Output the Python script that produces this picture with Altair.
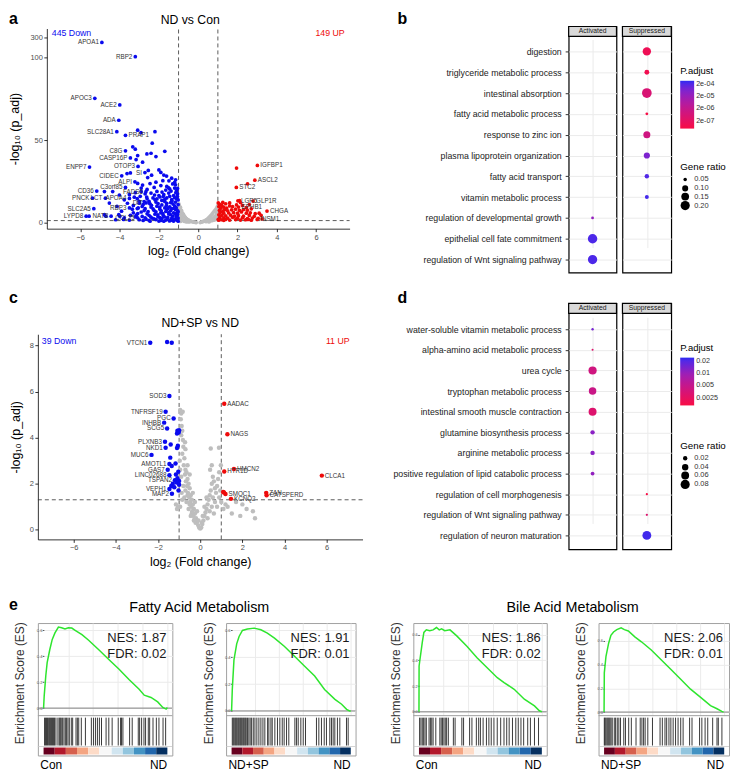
import altair as alt
import pandas as pd

FONT = "Liberation Sans"
BLUE = "#0A0AEE"
RED = "#EE0A0A"
GRAY = "#BEBEBE"

# ---------------- Panel a : ND vs Con (volcano) ----------------
a_down_genes = ["APOA1", "RBP2", "APOC3", "ACE2", "ADA", "SLC28A1", "PRAP1", "C8G", "CASP16P",
                "ENPP7", "OTOP3", "SI", "CIDEC", "ALPI", "C3orf85", "CD36", "FADS6", "PNCK",
                "LCT", "APOA4", "DIT", "SLC2A5", "RBP3", "LYPD8", "NAT8", "CCL25"]
a_down_gx = [-4.9, -3.2, -5.26, -3.99, -4.04, -4.14, -3.7, -3.7, -3.45, -5.53, -3.06, -2.71, -3.89,
             -3.22, -3.7, -5.16, -2.66, -5.38, -4.72, -3.5, -2.66, -5.31, -3.5, -5.7, -4.43, -3.08]
a_down_gy = [291, 100.6, 75.4, 71.4, 62.1, 55.2, 53.0, 43.6, 39.3, 33.7, 34.1, 30.4, 28.4, 24.8,
             21.4, 19.2, 18.8, 14.9, 14.9, 14.7, 12.0, 8.5, 9.0, 4.0, 4.0, 3.0]
a_down_right_labels = ["PRAP1"]   # labels that sit to the right of their point
a_down_pts = [(-3.08, 56.1), (-2.91, 54.6), (-2.2, 55.2), (-2.34, 48.2), (-3.33, 46.0), (-3.2, 44.6),
              (-2.61, 41.7), (-2.4, 42.1), (-1.7, 43.3), (-3.08, 40.7), (-3.16, 38.3), (-2.15, 40.1),
              (-2.83, 36.7), (-3.62, 29.8), (-3.45, 30.2), (-2.54, 31.7), (-2.0, 32.0), (-1.9, 30.5),
              (-1.75, 28.9), (-2.57, 27.4), (-2.37, 28.8), (-1.61, 28.3), (-1.49, 25.4), (-3.08, 23.8),
              (-2.83, 22.8), (-2.24, 21.4), (-1.65, 19.8), (-4.77, 18.9), (-4.35, 18.9), (-4.01, 16.8),
              (-3.76, 13.9), (-4.52, 11.9), (-4.13, 9.9), (-4.77, 4.9), (-4.7, 4.0), (-4.04, 4.9),
              (-3.76, 3.0), (-3.1, 8.6), (-3.08, 5.6), (-5.55, 4.0), (-3.99, 4.0),
              (-1.3, 23.5), (-1.2, 21.0), (-1.1, 19.5), (-1.45, 20.5), (-1.9, 22.5), (-2.1, 19.0),
              (-2.4, 18.0), (-2.7, 17.5), (-2.95, 16.0), (-3.25, 15.5), (-3.0, 13.0), (-2.6, 14.5),
              (-2.3, 15.0), (-2.0, 16.5), (-1.75, 17.0), (-1.5, 18.0), (-1.25, 16.5), (-1.05, 17.5),
              (-1.1, 14.5), (-1.35, 14.0), (-1.6, 15.0), (-1.85, 13.5), (-2.15, 12.5), (-2.45, 11.5),
              (-2.8, 11.0), (-3.3, 10.5), (-3.05, 9.0), (-2.7, 8.5), (-2.4, 9.5), (-2.1, 10.0),
              (-1.85, 10.8), (-1.6, 11.8), (-1.4, 12.2), (-1.15, 12.5), (-1.02, 11.0), (-1.2, 10.2),
              (-1.45, 9.6), (-1.7, 9.0), (-1.95, 8.2), (-2.25, 7.5), (-2.55, 6.8), (-2.9, 6.5),
              (-3.3, 6.0), (-3.2, 3.5), (-2.85, 3.8), (-2.5, 4.5), (-2.2, 5.2), (-1.9, 6.0),
              (-1.65, 6.8), (-1.4, 7.4), (-1.15, 8.0), (-1.03, 7.0), (-1.25, 6.0), (-1.5, 5.3),
              (-1.78, 4.4), (-2.05, 3.6), (-2.35, 2.8), (-2.65, 2.2), (-3.0, 1.8), (-1.05, 5.0),
              (-1.1, 3.8), (-1.3, 4.0), (-1.55, 3.2), (-1.85, 2.5), (-2.15, 1.9), (-2.5, 1.5),
              (-1.02, 2.8), (-1.2, 2.2), (-1.4, 1.8), (-1.65, 1.6), (-1.9, 1.4), (-1.08, 1.5),
              (-1.3, 1.4), (-2.8, 1.4), (-3.5, 1.6), (-3.8, 2.0), (-4.2, 1.8), (-1.12, 9.2),
              (-1.35, 8.6), (-1.6, 8.0), (-1.02, 13.8), (-1.2, 15.2), (-1.45, 16.0), (-1.7, 14.2),
              (-1.95, 15.6), (-2.2, 14.0), (-2.5, 13.0), (-2.75, 12.8), (-1.05, 20.8), (-1.15, 23.0),
              (-1.6, 22.0), (-2.6, 20.2), (-2.9, 19.0), (-3.2, 18.2), (-3.5, 17.0), (-3.6, 11.8),
              (-3.9, 7.0), (-3.45, 4.5),
              (-1.02, 0.9), (-1.05, 1.9), (-1.08, 3.3), (-1.12, 4.6), (-1.18, 5.6), (-1.04, 6.3),
              (-1.09, 7.8), (-1.22, 8.7), (-1.28, 11.3), (-1.33, 13.1), (-1.06, 16.0), (-1.14, 18.2),
              (-1.38, 19.2), (-1.52, 21.3), (-1.2, 24.5), (-1.25, 1.0), (-1.35, 2.6), (-1.42, 5.0),
              (-1.5, 6.2), (-1.55, 8.7), (-1.62, 10.4), (-1.7, 12.9), (-1.78, 15.9), (-1.84, 18.6),
              (-1.46, 1.1), (-1.58, 2.3), (-1.72, 3.6), (-1.8, 5.6), (-1.88, 7.2), (-1.96, 9.4),
              (-2.04, 11.6), (-2.1, 14.4), (-2.22, 16.8), (-1.75, 0.9), (-1.95, 3.1), (-2.05, 4.8),
              (-2.15, 6.6), (-2.3, 8.4), (-2.38, 10.6), (-2.5, 12.0), (-2.62, 15.6), (-2.0, 1.0),
              (-2.25, 2.4), (-2.42, 3.6), (-2.6, 5.4), (-2.75, 7.4), (-2.85, 9.9), (-3.0, 11.8),
              (-2.45, 0.9), (-2.7, 3.0), (-3.15, 4.6), (-3.35, 8.2), (-3.1, 14.6), (-2.9, 21.0),
              (-2.45, 23.7), (-2.15, 24.6), (-1.8, 25.5), (-1.35, 27.0), (-1.15, 26.0)]
a_up_genes = ["IGFBP1", "ASCL2", "STC2", "LGR5", "GLP1R", "EPHB1", "CHGA", "INSM1"]
a_up_gx = [3.01, 2.88, 1.94, 2.02, 2.79, 2.05, 3.5, 3.0]
a_up_gy = [34.7, 25.8, 21.4, 13.3, 13.1, 9.5, 7.1, 2.0]
a_up_pts = [(1.95, 33.1), (2.51, 23.6), (2.1, 13.4), (2.5, 2.0), (3.25, 2.3),
            (1.02, 12.0), (1.1, 11.2), (1.2, 10.5), (1.05, 9.8), (1.3, 9.5), (1.15, 8.8), (1.45, 8.9),
            (1.6, 10.2), (1.75, 9.8), (1.35, 7.9), (1.08, 7.5), (1.25, 7.0), (1.5, 7.2), (1.7, 7.8),
            (1.9, 8.2), (2.1, 7.5), (2.3, 8.0), (2.5, 7.6), (2.7, 8.4), (1.12, 6.3), (1.3, 5.8),
            (1.55, 5.9), (1.8, 6.2), (2.0, 5.8), (2.2, 6.5), (2.45, 5.8), (2.65, 6.0), (2.9, 5.5),
            (3.1, 5.8), (1.05, 4.8), (1.2, 4.5), (1.4, 4.2), (1.65, 4.6), (1.85, 4.0), (2.05, 4.3),
            (2.3, 4.0), (2.6, 4.4), (2.85, 3.9), (3.2, 4.5), (1.1, 3.2), (1.3, 3.0), (1.5, 2.8),
            (1.75, 3.3), (2.0, 2.7), (2.25, 3.0), (2.5, 2.5), (2.75, 2.8), (3.05, 2.6), (1.02, 2.1),
            (1.2, 1.8), (1.4, 2.0), (1.6, 1.6), (1.9, 1.9), (2.15, 1.6), (2.4, 1.8), (2.7, 1.5),
            (1.05, 1.5), (1.3, 1.45), (2.55, 2.1), (1.95, 10.8), (2.25, 10.5), (2.45, 9.2),
            (1.25, 12.3), (1.4, 11.5), (1.6, 12.0), (2.15, 12.2), (2.6, 11.0)]
a_ns_pts = [(-0.98, 11.5), (-0.95, 10.2), (-0.9, 9.3), (-0.93, 8.0), (-0.85, 7.5), (-0.88, 6.2),
            (-0.8, 6.0), (-0.82, 4.8), (-0.75, 5.0), (-0.7, 4.0), (-0.72, 3.0), (-0.65, 3.2),
            (-0.6, 2.5), (-0.55, 2.0), (-0.5, 1.7), (-0.45, 1.3), (-0.4, 1.0), (-0.35, 0.8),
            (-0.3, 0.6), (-0.25, 0.4), (-0.2, 0.3), (-0.15, 0.2), (-0.1, 0.1), (-0.95, 5.5),
            (-0.9, 4.2), (-0.85, 3.5), (-0.8, 2.6), (-0.75, 2.0), (-0.7, 1.6), (-0.65, 1.2),
            (-0.6, 1.0), (-0.55, 0.8), (-0.5, 0.6), (-0.45, 0.5), (-0.97, 3.5), (-0.92, 2.5),
            (-0.88, 1.8), (-0.8, 1.3), (-0.7, 0.8), (-0.6, 0.5), (-0.98, 7.0), (-0.96, 1.5),
            (-0.9, 0.8), (-0.99, 9.0), (0.1, 0.1), (0.15, 0.3), (0.2, 0.5), (0.25, 0.8), (0.3, 1.0),
            (0.35, 1.3), (0.4, 1.7), (0.45, 2.1), (0.5, 2.6), (0.55, 3.2), (0.6, 3.8), (0.65, 4.5),
            (0.7, 5.2), (0.75, 6.0), (0.8, 6.8), (0.85, 7.5), (0.9, 8.2), (0.95, 9.0), (0.98, 10.0),
            (0.6, 2.0), (0.7, 2.8), (0.8, 3.5), (0.9, 4.5), (0.95, 5.5), (0.65, 1.5), (0.75, 2.0),
            (0.85, 2.8), (0.95, 3.5), (0.5, 1.0), (0.6, 1.0), (0.7, 1.2), (0.8, 1.5), (0.9, 2.0),
            (0.97, 2.5), (0.4, 0.6), (0.55, 0.5), (0.99, 7.0), (0.92, 6.3)]

# ---------------- Panel c : ND+SP vs ND (volcano) ----------------
c_down_genes = ["VTCN1", "SOD3", "TNFRSF19", "PGC", "INHBB", "SCG5", "PLXNB3", "NKD1", "MUC6",
                "AMOTL1", "GAS7", "LINC02688", "TSPAN2", "VEPH1", "MAP2"]
c_down_gx = [-2.37, -1.46, -1.64, -1.26, -1.71, -1.57, -1.67, -1.64, -2.31, -1.46, -1.54, -1.46,
             -1.2, -1.46, -1.34]
c_down_gy = [8.12, 5.81, 5.12, 4.83, 4.65, 4.40, 3.82, 3.56, 3.25, 2.85, 2.6, 2.37, 2.15, 1.77, 1.56]
c_down_pts = [(-1.57, 8.15), (-1.35, 8.12), (-1.08, 4.3), (-1.02, 4.22), (-1.1, 4.18), (-1.0, 4.32),
              (-1.05, 4.25), (-1.4, 3.7), (-1.06, 3.65), (-1.1, 3.55), (-1.42, 3.13), (-1.35, 2.77),
              (-1.17, 2.88), (-1.04, 2.52), (-1.15, 2.4), (-1.08, 2.24), (-1.0, 2.12), (-1.3, 2.0),
              (-1.37, 1.9), (-1.23, 1.84), (-1.03, 1.7), (-1.12, 2.05), (-1.0, 1.95)]
c_up_genes = ["AADAC", "NAGS", "HMCN2", "HTR1D", "CLCA1", "ZAN", "CATSPERD", "SMOC1", "KCNQ2"]
c_up_gx = [1.14, 1.29, 1.6, 1.14, 5.77, 3.13, 3.15, 1.2, 1.46]
c_up_gy = [5.47, 4.15, 2.64, 2.53, 2.35, 1.6, 1.5, 1.55, 1.34]
c_up_pts = [(1.09, 1.64), (1.13, 1.62)]
c_ns_pts = [(-0.95, 5.2), (-0.9, 5.05), (-0.83, 5.12), (-0.92, 4.8), (-0.88, 4.5), (-0.85, 4.3),
            (-0.9, 4.1), (-0.82, 3.9), (-0.72, 3.8), (-0.8, 3.6), (-0.85, 3.3), (-0.75, 3.1),
            (-0.78, 2.8), (-0.7, 2.6), (-0.72, 2.4), (-0.65, 2.5), (-0.6, 2.2), (-0.68, 2.1),
            (-0.55, 2.0), (-0.62, 1.9), (-0.5, 1.8), (-0.58, 1.6), (-0.45, 1.5), (-0.52, 1.4),
            (-0.4, 1.3), (-0.48, 1.2), (-0.35, 1.1), (-0.42, 1.0), (-0.3, 0.9), (-0.38, 0.8),
            (-0.25, 0.7), (-0.32, 0.6), (-0.2, 0.5), (-0.27, 0.45), (-0.15, 0.35), (-0.22, 0.3),
            (-0.1, 0.2), (-0.05, 0.1), (0.0, 0.05), (-0.7, 1.7), (-0.8, 1.9), (-0.9, 2.3),
            (-0.95, 2.6), (-0.97, 3.0), (-0.6, 1.5), (-0.75, 1.4), (-0.88, 1.6), (-0.5, 1.1),
            (-0.65, 1.2), (-0.85, 1.3), (-0.4, 0.7), (-0.55, 0.9), (-0.95, 1.0), (-1.05, 1.0),
            (-1.1, 0.9), (-0.3, 0.4), (-0.45, 0.6), (-0.7, 3.5), (-0.6, 2.8), (-0.5, 2.4),
            (-0.35, 1.6), (-0.25, 1.2), (-0.15, 0.8), (-0.08, 0.4), (-1.15, 1.1),
            (0.05, 0.1), (0.1, 0.25), (0.15, 0.4), (0.2, 0.6), (0.25, 0.75), (0.3, 0.9),
            (0.35, 1.1), (0.4, 1.3), (0.45, 1.5), (0.5, 1.7), (0.55, 2.0), (0.6, 2.3), (0.47, 2.6),
            (0.55, 2.8), (0.65, 2.1), (0.7, 1.8), (0.75, 1.6), (0.8, 1.9), (0.85, 2.2), (0.9, 2.5),
            (0.89, 3.56), (0.5, 3.53), (0.6, 1.4), (0.7, 1.2), (0.8, 1.0), (0.9, 1.4), (0.95, 1.7),
            (1.0, 1.2), (0.35, 0.5), (0.45, 0.8), (0.55, 1.0), (0.65, 0.7), (0.98, 2.8),
            (0.2, 1.0), (0.3, 1.4), (0.12, 0.6), (0.08, 0.3),
            (1.1, 0.9), (1.3, 1.0), (1.5, 0.7), (1.7, 1.2), (1.9, 0.6), (2.2, 0.9), (2.5, 0.8),
            (2.6, 0.5), (1.2, 1.1), (2.0, 1.1)]

# ---------------- Panel b : GO dot plot (ND vs Con) ----------------
b_terms = ["digestion", "triglyceride metabolic process", "intestinal absorption",
           "fatty acid metabolic process", "response to zinc ion", "plasma lipoprotein organization",
           "fatty acid transport", "vitamin metabolic process", "regulation of developmental growth",
           "epithelial cell fate commitment", "regulation of Wnt signaling pathway"]
b_dir = ["Suppressed"] * 8 + ["Activated"] * 3
b_ratio = [0.17, 0.073, 0.22, 0.04, 0.127, 0.103, 0.064, 0.057, 0.04, 0.21, 0.205]
b_padj = [1e-7, 8e-8, 5e-7, 5e-8, 1e-6, 6e-5, 2e-4, 2.5e-4, 2.5e-5, 2.2e-4, 2.2e-4]

# ---------------- Panel d : GO dot plot (ND+SP vs ND) ----------------
d_terms = ["water-soluble vitamin metabolic process", "alpha-amino acid metabolic process",
           "urea cycle", "tryptophan metabolic process", "intestinal smooth muscle contraction",
           "glutamine biosynthesis process", "arginine metabolic process",
           "positive regulation of lipid catabolic process", "regulation of cell morphogenesis",
           "regulation of Wnt signaling pathway", "regulation of neuron maturation"]
d_dir = ["Activated"] * 8 + ["Suppressed"] * 3
d_ratio = [0.0075, 0.006, 0.065, 0.055, 0.061, 0.02, 0.02, 0.0156, 0.0068, 0.0068, 0.075]
d_padj = [0.015, 0.003, 0.004, 0.0045, 0.003, 0.012, 0.012, 0.011, 0.0016, 0.003, 0.022]

# ---------------- Panel e : GSEA running scores and hits ----------------
fa1_x = [0, 0.005, 0.018, 0.029, 0.05, 0.07, 0.092, 0.12, 0.146, 0.173, 0.2, 0.228, 0.255, 0.31,
         0.364, 0.446, 0.527, 0.61, 0.69, 0.772, 0.813, 0.868, 0.922, 0.963, 0.99, 1.0]
fa1_y = [0, 0.094, 0.25, 0.35, 0.45, 0.53, 0.58, 0.625, 0.62, 0.61, 0.62, 0.617, 0.6, 0.566,
         0.523, 0.45, 0.375, 0.3, 0.22, 0.145, 0.1, 0.082, 0.048, 0.005, -0.008, 0.005]
fa2_x = [0, 0.006, 0.02, 0.043, 0.063, 0.091, 0.133, 0.19, 0.246, 0.3, 0.36, 0.444, 0.528, 0.613,
         0.697, 0.78, 0.867, 0.923, 0.965, 0.99, 1.0]
fa2_y = [0, 0.16, 0.38, 0.5, 0.555, 0.6, 0.61, 0.617, 0.605, 0.58, 0.543, 0.48, 0.407, 0.333,
         0.26, 0.16, 0.086, 0.05, 0.012, 0.0, 0.0]
ba1_x = [0, 0.001, 0.01, 0.027, 0.04, 0.06, 0.0875, 0.115, 0.1425, 0.165, 0.184, 0.21, 0.2525,
         0.3075, 0.39, 0.4725, 0.555, 0.6375, 0.6925, 0.775, 0.8575, 0.94, 0.98, 1.0]
ba1_y = [0, 0.356, 0.42, 0.54, 0.617, 0.637, 0.63, 0.637, 0.655, 0.637, 0.645, 0.63, 0.637, 0.59,
         0.51, 0.42, 0.343, 0.265, 0.227, 0.175, 0.098, 0.046, 0.008, 0.0]
ba2_x = [0, 0.002, 0.016, 0.038, 0.057, 0.079, 0.106, 0.142, 0.169, 0.202, 0.256, 0.311, 0.393,
         0.475, 0.557, 0.64, 0.72, 0.804, 0.886, 0.94, 0.98, 0.995]
ba2_y = [0, 0.33, 0.47, 0.58, 0.647, 0.675, 0.694, 0.71, 0.694, 0.683, 0.634, 0.592, 0.523, 0.44,
         0.358, 0.275, 0.193, 0.124, 0.055, 0.028, 0.006, 0.0]
fa1_hits = [0.008, 0.016, 0.024, 0.032, 0.041, 0.049, 0.057, 0.065, 0.073, 0.081, 0.089, 0.1, 0.116,
            0.127, 0.135, 0.143, 0.154, 0.165, 0.176, 0.186, 0.197, 0.208, 0.224, 0.235, 0.262,
            0.273, 0.284, 0.305, 0.338, 0.386, 0.403, 0.419, 0.435, 0.451, 0.468, 0.505, 0.527,
            0.554, 0.603, 0.622, 0.63, 0.641, 0.695, 0.716, 0.765, 0.776, 0.792, 0.811, 0.824,
            0.846, 0.857, 0.884, 0.911, 0.932, 0.965, 0.986]
fa2_hits = [0.006, 0.014, 0.022, 0.031, 0.039, 0.047, 0.056, 0.064, 0.073, 0.081, 0.089, 0.098,
            0.106, 0.115, 0.123, 0.134, 0.145, 0.156, 0.168, 0.182, 0.196, 0.212, 0.229, 0.246,
            0.263, 0.279, 0.302, 0.313, 0.33, 0.341, 0.363, 0.385, 0.405, 0.425, 0.441, 0.461,
            0.48, 0.531, 0.545, 0.559, 0.581, 0.601, 0.62, 0.712, 0.732, 0.754, 0.777, 0.796,
            0.824, 0.838, 0.852, 0.866, 0.888, 0.908, 0.964, 0.978]
ba1_hits = [0.005, 0.016, 0.027, 0.038, 0.049, 0.06, 0.082, 0.093, 0.104, 0.115, 0.137, 0.17,
            0.181, 0.192, 0.203, 0.214, 0.225, 0.239, 0.28, 0.294, 0.349, 0.363, 0.412, 0.431,
            0.467, 0.486, 0.5, 0.522, 0.549, 0.569, 0.588, 0.61, 0.637, 0.665, 0.692, 0.714,
            0.734, 0.761, 0.788, 0.808, 0.83, 0.852, 0.885, 0.907, 0.94, 0.973]
ba2_hits = [0.002, 0.008, 0.016, 0.025, 0.033, 0.041, 0.049, 0.058, 0.068, 0.085, 0.096, 0.11,
            0.123, 0.137, 0.164, 0.178, 0.205, 0.227, 0.266, 0.301, 0.315, 0.329, 0.342, 0.364,
            0.403, 0.466, 0.485, 0.507, 0.521, 0.54, 0.556, 0.575, 0.595, 0.616, 0.638, 0.658,
            0.712, 0.732, 0.795, 0.814, 0.841, 0.863, 0.904, 0.94, 0.951, 0.981]
rank_bin_lo = [0, 0.09, 0.18, 0.27, 0.36, 0.45, 0.55, 0.64, 0.73, 0.82, 0.91]
rank_bin_hi = [0.09, 0.18, 0.27, 0.36, 0.45, 0.55, 0.64, 0.73, 0.82, 0.91, 1.0]
RDBU = ["#67001f", "#b2182b", "#d6604d", "#f4a582", "#fddbc7", "#f7f7f7",
        "#d1e5f0", "#92c5de", "#4393c3", "#2166ac", "#053061"]


def one(**kw):
    return pd.DataFrame({k: [v] for k, v in kw.items()})


def indep(c):
    return c.resolve_scale(x="independent", y="independent", color="independent", size="independent")


def letter(t, x, y):
    return alt.Chart(one(t=t)).mark_text(align="left", baseline="alphabetic", fontSize=16,
                                          fontWeight="bold", color="black").encode(
        x=alt.value(x), y=alt.value(y), text="t:N")


def note(t, x, y, size, color="black", align="center"):
    return alt.Chart(one(t=t)).mark_text(align=align, baseline="alphabetic", fontSize=size,
                                          color=color).encode(
        x=alt.value(x), y=alt.value(y), text="t:N")


def spacer(w, h):
    return alt.Chart(one(k=0)).mark_point(opacity=0).encode(
        x=alt.value(0), y=alt.value(0)).properties(width=w, height=h)


def volcano(ns, down, up, dl, ul, W, H, xrange, yrange, ydom, yaxis, ycalc, psize, extra):
    recs = ([dict(x=x, y=y, g="ns") for x, y in ns] +
            [dict(x=x, y=y, g="down") for x, y in down] +
            [dict(x=x, y=y, g="up") for x, y in up])
    df = pd.DataFrame(recs)
    xs = alt.Scale(domain=[-7.7, 7.7], range=xrange, nice=False, zero=False)
    ys = alt.Scale(domain=ydom, range=yrange, nice=False, zero=False)
    xaxis = alt.Axis(values=[-6, -4, -2, 0, 2, 4, 6], title="log₂ (Fold change)", titleFontSize=12.5,
                     titleFontWeight="normal", titleColor="black", titlePadding=4, labelFontSize=7.5,
                     labelColor="#4D4D4D", tickColor="#333", tickSize=3, domainColor="black",
                     domainWidth=0.8, grid=False, labelPadding=1.5)
    pts = alt.Chart(df).transform_calculate(yd=ycalc).mark_circle(size=psize, opacity=1).encode(
        x=alt.X("x:Q", scale=xs, axis=xaxis),
        y=alt.Y("yd:Q", scale=ys, axis=yaxis),
        color=alt.Color("g:N", scale=alt.Scale(domain=["ns", "down", "up"], range=[GRAY, BLUE, RED]),
                        legend=None))
    labl = alt.Chart(dl).transform_calculate(yd=ycalc).mark_text(
        align="right", baseline="middle", dx=-3, fontSize=6.3, color="#333").encode(
        x="x:Q", y="yd:Q", text="gene:N")
    labr = alt.Chart(ul).transform_calculate(yd=ycalc).mark_text(
        align="left", baseline="middle", dx=3, fontSize=6.3, color="#333").encode(
        x="x:Q", y="yd:Q", text="gene:N")
    vr = alt.Chart(pd.DataFrame({"x": [-1, 1], "yd": [ydom[0]] * 2, "yd2": [ydom[1]] * 2})).mark_rule(
        color="#333", strokeDash=[4, 3], strokeWidth=0.8).encode(x="x:Q", y="yd:Q", y2="yd2:Q")
    hr = alt.Chart(pd.DataFrame({"x": [-7.7], "x2": [7.7], "yd": [1.3]})).mark_rule(
        color="#333", strokeDash=[4, 3], strokeWidth=0.8).encode(x="x:Q", x2="x2:Q", y="yd:Q")
    return alt.layer(vr, hr, pts, labl, labr, *extra).properties(width=W, height=H)


def label_frame(genes, gx, gy):
    return pd.DataFrame({"gene": genes, "x": gx, "y": gy})


# panel a  (leaf starts at the top of panel b's strip)
a_lab_all = label_frame(a_down_genes, a_down_gx, a_down_gy)
a_lab_left = a_lab_all[~a_lab_all["gene"].isin(a_down_right_labels)]
a_lab_right = pd.concat([label_frame(a_up_genes, a_up_gx, a_up_gy),
                         a_lab_all[a_lab_all["gene"].isin(a_down_right_labels)]])
a_yaxis = alt.Axis(values=[0, 25, 50, 75, 100, 107.4, 112.1],
                   labelExpr="datum.value > 110 ? '300' : (datum.value > 105 ? '285' : datum.label)",
                   title="-log₁₀ (p_adj)", titleFontSize=12.5, titleFontWeight="normal",
                   titleColor="black", titlePadding=8, labelFontSize=7.5, labelColor="#4D4D4D",
                   tickColor="#333", tickSize=3, domainColor="black", domainWidth=0.8, grid=False,
                   labelPadding=1.5, offset=-9)
panel_a = volcano(a_ns_pts, list(zip(a_down_gx, a_down_gy)) + a_down_pts,
                  list(zip(a_up_gx, a_up_gy)) + a_up_pts,
                  a_lab_left, a_lab_right,
                  326, 203, [9, 313], [203, 2], [-3.6, 117.7], a_yaxis,
                  "datum.y > 200 ? 107.4 + (datum.y - 285) * 0.313 : datum.y", 14,
                  [note("ND vs Con", 153, -3, 12.3),
                   note("445 Down", 14, 10, 8.8, BLUE, "left"),
                   note("149 UP", 308, 10, 8.8, RED, "right"),
                   letter("a", -29, -3)])

# panel c  (leaf starts at the top of panel d's strip)
c_yaxis = alt.Axis(values=[0, 1, 2, 3, 4, 5, 6, 7, 8], title="-log₁₀ (p_adj)", titleFontSize=12.5,
                   titleFontWeight="normal", titleColor="black", titlePadding=7, labelFontSize=7.5,
                   labelColor="#4D4D4D", tickColor="#333", tickSize=3, domainColor="black",
                   domainWidth=0.8, grid=False, labelPadding=1.5)
panel_c = volcano(c_ns_pts, list(zip(c_down_gx, c_down_gy)) + c_down_pts,
                  list(zip(c_up_gx, c_up_gy)) + c_up_pts,
                  label_frame(c_down_genes, c_down_gx, c_down_gy),
                  label_frame(c_up_genes, c_up_gx, c_up_gy),
                  326, 237, [0, 326], [237, 31], [-0.42, 8.49], c_yaxis, "datum.y", 20,
                  [note("ND+SP vs ND", 163, 24, 12.3),
                   note("39 Down", 4, 41, 8.8, BLUE, "left"),
                   note("11 UP", 313, 41, 8.8, RED, "right"),
                   letter("c", -29, 0)])

# dot plot panels
PRED = "#F80D45"
PBLUE = "#2A2AF2"


def dot_leaf(terms, dirs, ratios, padj, which, show_y, width, yrange, cdom, cvals, cexpr, sdom,
             svals, with_legend, legy, let=None, let_y=0):
    df = pd.DataFrame({"term": terms, "dir": dirs, "ratio": ratios, "padj": padj})
    df = df[df["dir"] == which]
    cscale = alt.Scale(type="log", domain=cdom, range=[PRED, PBLUE], interpolate="lab")
    sscale = alt.Scale(domain=sdom, range=[3, 95], zero=False)
    if show_y:
        yaxis = alt.Axis(labels=True, ticks=True, domain=False, grid=True, gridColor="#EBEBEB",
                         title=None, labelFontSize=8.8, labelColor="#222", labelLimit=400,
                         tickSize=3.5, tickColor="#333", labelPadding=4)
    else:
        yaxis = alt.Axis(labels=False, ticks=False, domain=False, grid=True, gridColor="#EBEBEB",
                         title=None)
    enc = dict(
        x=alt.X("dir:N", scale=alt.Scale(domain=[which]),
                axis=alt.Axis(grid=True, gridColor="#EBEBEB", labels=False, ticks=False,
                              domain=False, title=None)),
        y=alt.Y("term:N", scale=alt.Scale(domain=terms, range=yrange, padding=0), axis=yaxis),
    )
    if with_legend:
        enc["color"] = alt.Color("padj:Q", scale=cscale, legend=alt.Legend(
            title="P.adjust", orient="none", legendX=58, legendY=legy[0], direction="vertical",
            gradientLength=48, gradientThickness=14, values=cvals, labelExpr=cexpr,
            titleFontSize=9.5, titleFontWeight="normal", titleColor="black", labelFontSize=7.2,
            labelColor="#333", titlePadding=5))
        enc["size"] = alt.Size("ratio:Q", scale=sscale, legend=alt.Legend(
            title="Gene ratio", orient="none", legendX=58, legendY=legy[1], direction="vertical",
            values=svals, format=".2f", symbolFillColor="black", symbolStrokeWidth=0,
            symbolOpacity=1, titleFontSize=9.8, titleFontWeight="normal", titleColor="black",
            labelFontSize=7.5, labelColor="#333", rowPadding=0, titlePadding=4))
    else:
        enc["color"] = alt.Color("padj:Q", scale=cscale, legend=None)
        enc["size"] = alt.Size("ratio:Q", scale=sscale, legend=None)
    pts = alt.Chart(df).mark_circle(opacity=1).encode(**enc)
    strip = alt.Chart(one(k=0)).mark_rect(fill="#D9D9D9", stroke="black", strokeWidth=1.2).encode(
        x=alt.value(0), x2=alt.value(width), y=alt.value(0), y2=alt.value(10))
    st = alt.Chart(one(t=which)).mark_text(fontSize=6.8, color="#1A1A1A", baseline="middle").encode(
        x=alt.value(width / 2), y=alt.value(5), text="t:N")
    layers = [pts, strip, st]
    if let is not None:
        layers.append(letter(let, -172, let_y))
    return alt.layer(*layers).properties(
        width=width, height=247, view=alt.ViewBackground(stroke="black", strokeWidth=1.2))


b_kw = dict(cdom=[4.5e-8, 3.5e-4], cvals=[2e-7, 2e-6, 2e-5, 2e-4],
            cexpr="replace(format(datum.value, '.0e'), 'e-', 'e-0')",
            sdom=[0.03, 0.22], svals=[0.05, 0.10, 0.15, 0.20], yrange=[25, 234])
d_kw = dict(cdom=[0.0016, 0.024], cvals=[0.0025, 0.005, 0.01, 0.02],
            cexpr="format(datum.value, '~g')",
            sdom=[0.005, 0.09], svals=[0.02, 0.04, 0.06, 0.08], yrange=[26, 233])
b_act = dot_leaf(b_terms, b_dir, b_ratio, b_padj, "Activated", True, 48, with_legend=False,
                 legy=(40, 136), let="b", let_y=-3, **b_kw)
b_sup = dot_leaf(b_terms, b_dir, b_ratio, b_padj, "Suppressed", False, 49, with_legend=True,
                 legy=(40, 136), **b_kw)
d_act = dot_leaf(d_terms, d_dir, d_ratio, d_padj, "Activated", True, 48, with_legend=False,
                 legy=(40, 138), let="d", let_y=0, **d_kw)
d_sup = dot_leaf(d_terms, d_dir, d_ratio, d_padj, "Suppressed", False, 49, with_legend=True,
                 legy=(40, 138), **d_kw)


# GSEA panels (running score on top, hits and ranked list below, in one box)
def gsea(cx, cy, hits, ydom, nes, fdr, W, left_lab, right_lab, extra):
    xs = alt.Scale(domain=[-0.046, 1.04], nice=False, zero=False)
    curve = alt.Chart(pd.DataFrame({"rank": cx, "es": cy})).mark_line(
        color="#2EE52E", strokeWidth=1.5).encode(
        x=alt.X("rank:Q", scale=xs,
                axis=alt.Axis(orient="top", grid=True, gridColor="#EBEBEB", labels=False,
                              ticks=False, domain=False, title=None,
                              values=[0.2, 0.4, 0.6, 0.8, 1.0])),
        y=alt.Y("es:Q", scale=alt.Scale(domain=ydom, range=[93, 0], nice=False, zero=False),
                axis=alt.Axis(values=[0, 0.2, 0.4, 0.6], format=".1f", grid=True,
                              gridColor="#EBEBEB", labelFontSize=4, labelColor="#555",
                              tickSize=1.5, tickColor="#555", domain=False, offset=-6,
                              labelPadding=0.5, title="Enrichment Score (ES)", titleFontSize=12,
                              titleFontWeight="normal", titleColor="#333", titleX=-17,
                              titleY=60)))
    zero = alt.Chart(pd.DataFrame({"es": [0]})).mark_rule(color="#777", strokeWidth=0.9).encode(
        y="es:Q")
    txt = alt.Chart(one(t=0)).mark_text(align="right", baseline="alphabetic", fontSize=13,
                                        lineHeight=15.7, color="#1A1A1A").encode(
        x=alt.value(W - 6), y=alt.value(19), text=alt.value([f"NES: {nes}", f"FDR: {fdr}"]))
    lines = alt.Chart(pd.DataFrame({"rank": hits})).mark_rule(
        color="black", opacity=0.78, strokeWidth=1).encode(
        x=alt.X("rank:Q", scale=xs,
                axis=alt.Axis(orient="bottom", values=[-0.03, 0.995],
                              labelExpr=f"datum.value < 0.5 ? '{left_lab}' : '{right_lab}'",
                              labelFlush=10, labelFontSize=12, labelColor="black", ticks=False,
                              domain=False, grid=False, title=None, labelPadding=4)),
        y=alt.value(95), y2=alt.value(123))
    div = alt.Chart(one(k=0)).mark_rule(color="#A0A0A0", strokeWidth=1).encode(
        x=alt.value(0), x2=alt.value(W), y=alt.value(93))
    sep = alt.Chart(one(k=0)).mark_rule(color="#C8C8C8", strokeWidth=0.8).encode(
        x=alt.value(0), x2=alt.value(W), y=alt.value(124))
    bars = alt.Chart(pd.DataFrame({"lo": rank_bin_lo, "hi": rank_bin_hi,
                                   "k": list(range(len(rank_bin_lo)))})).mark_rect().encode(
        x=alt.X("lo:Q", scale=xs, axis=None), x2="hi:Q", y=alt.value(125), y2=alt.value(132),
        color=alt.Color("k:O", scale=alt.Scale(range=RDBU), legend=None))
    return alt.layer(zero, curve, txt, lines, div, sep, bars, *extra).resolve_axis(
        x="independent").properties(
        width=W, height=133, view=alt.ViewBackground(stroke="#A0A0A0", strokeWidth=1))


g1 = gsea(fa1_x, fa1_y, fa1_hits, [-0.058, 0.656], "1.87", "0.02", 135, "Con", "ND",
          [letter("e", -29, -13), note("Fatty Acid Metabolism", 162, -11, 14.4)])
g2 = gsea(fa2_x, fa2_y, fa2_hits, [-0.035, 0.655], "1.91", "0.01", 130, "ND+SP", "ND", [])
g3 = gsea(ba1_x, ba1_y, ba1_hits, [-0.03, 0.69], "1.86", "0.02", 134, "Con", "ND",
          [note("Bile Acid Metabolism", 160, -11, 14.4)])
g4 = gsea(ba2_x, ba2_y, ba2_hits, [-0.03, 0.75], "2.06", "0.01", 131, "ND+SP", "ND", [])

row3 = indep(alt.hconcat(g1, spacer(54, 1), g2, spacer(58, 1), g3, spacer(52, 1), g4,
                         spacing=0, bounds="flush"))

upper = indep(alt.concat(panel_a, spacer(207, 1), b_act, spacer(6, 1), b_sup,
                         panel_c, spacer(207, 1), d_act, spacer(6, 1), d_sup,
                         columns=5, align="each", bounds="flush",
                         spacing={"row": 31, "column": 0}))

chart = indep(alt.vconcat(upper, row3, spacing=28, bounds="full")).properties(padding=0)
chart = chart.configure(font=FONT).configure_view(stroke="transparent").configure_axis(
    labelFont=FONT, titleFont=FONT).configure_legend(labelFont=FONT, titleFont=FONT).configure_title(
    font=FONT).configure_text(font=FONT)

chart.save("out.html", embed_options={"renderer": "svg", "actions": False})
